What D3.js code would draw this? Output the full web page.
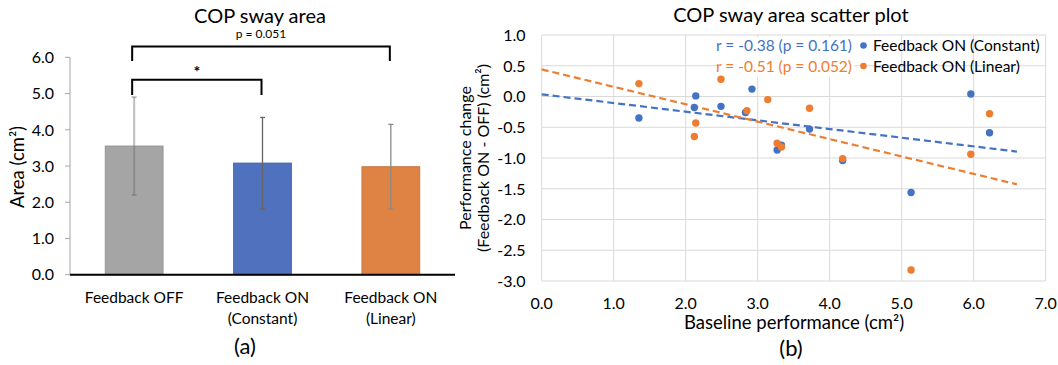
<!DOCTYPE html>
<html>
<head>
<meta charset="utf-8">
<script src="https://cdn.jsdelivr.net/npm/d3@7"></script>
<style>
  body { margin: 0; background: #fff; }
  svg { display: block; font-family: Lato, "Open Sans", sans-serif; }
</style>
</head>
<body>
<svg id="fig" width="1058" height="365"></svg>
<script>
// ---- (a) bar chart data
const groups = ["Feedback OFF", "Feedback ON (Constant)", "Feedback ON (Linear)"]
const groupLines = [["Feedback OFF"], ["Feedback ON", "(Constant)"], ["Feedback ON", "(Linear)"]]
const means = [3.55, 3.08, 2.98]
const sds = [1.35, 1.26, 1.17]
const barColors = ["#A5A5A5", "#4F71BE", "#DF8344"]
const yTicksA = [0, 1, 2, 3, 4, 5, 6]
const comparisons = [
  { from: 0, to: 1, text: "*" },
  { from: 0, to: 2, text: "p = 0.051" }
]

// ---- (b) scatter data
const baseConst   = [1.35, 2.12, 2.14, 2.49, 2.83, 2.92, 3.27, 3.33, 3.72, 4.18, 5.13, 5.96, 6.22]
const changeConst = [-0.35, -0.18, 0.01, -0.16, -0.26, 0.12, -0.87, -0.79, -0.53, -1.04, -1.56, 0.04, -0.59]
const baseLin     = [1.35, 2.12, 2.14, 2.49, 2.85, 3.14, 3.27, 3.33, 3.72, 4.18, 5.13, 5.96, 6.22]
const changeLin   = [0.21, -0.65, -0.43, 0.28, -0.23, -0.05, -0.76, -0.82, -0.19, -1.01, -2.82, -0.94, -0.28]
const trendConst = [0.035, -0.141]   // intercept, slope
const trendLin = [0.44, -0.283]
const trendSpan = [0, 6.6]
const seriesNames = ["Feedback ON (Constant)", "Feedback ON (Linear)"]
const statTexts = ["r = -0.38 (p = 0.161)", "r = -0.51 (p = 0.052)"]
const seriesColors = ["#4472C4", "#ED7D31"]
const xTicksB = [0, 1, 2, 3, 4, 5, 6, 7]
const yTicksB = [1, 0.5, 0, -0.5, -1, -1.5, -2, -2.5, -3]

const svg = d3.select("#fig")
const fmt = d => d3.format(".1f")(d).replace("−", "-")

// ================= (a)
const gA = svg.append("g")
const xA = d3.scaleBand().domain(groups).range([70, 455]).paddingInner(0.55).paddingOuter(0.275)
const yA = d3.scaleLinear().domain([0, 6]).range([274.7, 57.3])
const errColors = ["rgba(110,110,110,0.45)", "#666", "#8a8a8a"]

gA.append("text").attr("x", 260).attr("y", 23).attr("text-anchor", "middle")
  .attr("font-size", 20).attr("fill", "#000").text("COP sway area")

// y axis line + ticks
gA.append("line").attr("x1", 70).attr("x2", 70).attr("y1", yA(6)).attr("y2", yA(0))
  .attr("stroke", "#a6a6a6").attr("stroke-width", 1)
gA.selectAll(".ytA").data(yTicksA).join("line")
  .attr("x1", 65).attr("x2", 70).attr("y1", d => yA(d)).attr("y2", d => yA(d))
  .attr("stroke", "#a6a6a6")
gA.selectAll(".ylA").data(yTicksA).join("text")
  .attr("x", 54).attr("y", d => yA(d)).attr("dy", "0.36em").attr("text-anchor", "end")
  .attr("font-size", 16).attr("fill", "#000").text(fmt)

// bars
gA.selectAll(".bar").data(groups).join("rect")
  .attr("x", d => xA(d)).attr("width", xA.bandwidth())
  .attr("y", (d, i) => yA(means[i])).attr("height", (d, i) => yA(0) - yA(means[i]))
  .attr("fill", (d, i) => barColors[i])
  .attr("stroke", (d, i) => d3.color(barColors[i]).darker(0.3)).attr("stroke-width", 1)

// error bars
const eb = gA.selectAll(".eb").data(groups).join("g")
  .attr("stroke", (d, i) => errColors[i]).attr("stroke-width", (d, i) => i ? 1.3 : 2)
eb.append("line")
  .attr("x1", d => xA(d) + xA.bandwidth() / 2).attr("x2", d => xA(d) + xA.bandwidth() / 2)
  .attr("y1", (d, i) => yA(means[i] + sds[i])).attr("y2", (d, i) => yA(means[i] - sds[i]))
eb.append("line")
  .attr("x1", d => xA(d) + xA.bandwidth() / 2 - 2.5).attr("x2", d => xA(d) + xA.bandwidth() / 2 + 2.5)
  .attr("y1", (d, i) => yA(means[i] + sds[i])).attr("y2", (d, i) => yA(means[i] + sds[i]))
eb.append("line")
  .attr("x1", d => xA(d) + xA.bandwidth() / 2 - 2.5).attr("x2", d => xA(d) + xA.bandwidth() / 2 + 2.5)
  .attr("y1", (d, i) => yA(means[i] - sds[i])).attr("y2", (d, i) => yA(means[i] - sds[i]))

// baseline
gA.append("line").attr("x1", 70).attr("x2", 455).attr("y1", yA(0)).attr("y2", yA(0))
  .attr("stroke", "#000").attr("stroke-width", 2)

// category labels
groupLines.forEach((lines, i) => {
  const t = gA.append("text").attr("x", xA(groups[i]) + xA.bandwidth() / 2).attr("y", 303)
    .attr("text-anchor", "middle").attr("font-size", 15.5).attr("fill", "#000")
  lines.forEach((s, j) => t.append("tspan").attr("x", xA(groups[i]) + xA.bandwidth() / 2)
    .attr("dy", j ? 21 : 0).text(s))
})

// y title
gA.append("text").attr("transform", "translate(24,167) rotate(-90)")
  .attr("text-anchor", "middle").attr("font-size", 18.5).attr("fill", "#000").text("Area (cm²)")

// significance brackets
const bracketLevels = [[5.38, 4.96], [6.30, 5.90]]
comparisons.forEach((c, k) => {
  const x1 = xA(groups[c.from]) + xA.bandwidth() / 2 - 2
  const x2 = xA(groups[c.to]) + xA.bandwidth() / 2 - 1
  const [top, tip] = bracketLevels[k]
  gA.append("path")
    .attr("d", `M${x1},${yA(tip)}V${yA(top)}H${x2}V${yA(tip)}`)
    .attr("fill", "none").attr("stroke", "#000").attr("stroke-width", 2)
  gA.append("text").attr("x", (x1 + x2) / 2).attr("y", c.text === "*" ? yA(top) - 3 : yA(top) - 8)
    .attr("text-anchor", "middle").attr("font-size", c.text === "*" ? 16 : 12)
    .attr("font-weight", c.text === "*" ? "bold" : "normal").attr("fill", "#000").text(c.text)
})

gA.append("text").attr("x", 245).attr("y", 354).attr("text-anchor", "middle")
  .attr("font-size", 22).attr("fill", "#000").text("(a)")

// ================= (b)
const gB = svg.append("g")
const xB = d3.scaleLinear().domain([0, 7]).range([541.7, 1045.7])
const yB = d3.scaleLinear().domain([-3, 1]).range([281, 35])

gB.append("text").attr("x", 791).attr("y", 22).attr("text-anchor", "middle")
  .attr("font-size", 20).attr("fill", "#000").text("COP sway area scatter plot")

// grid
gB.selectAll(".gx").data(xTicksB).join("line")
  .attr("x1", d => xB(d)).attr("x2", d => xB(d)).attr("y1", yB(1)).attr("y2", yB(-3))
  .attr("stroke", "#d9d9d9").attr("stroke-width", 1)
gB.selectAll(".gy").data(yTicksB).join("line")
  .attr("x1", xB(0)).attr("x2", xB(7)).attr("y1", d => yB(d)).attr("y2", d => yB(d))
  .attr("stroke", "#d9d9d9").attr("stroke-width", 1)

gB.selectAll(".tx").data(xTicksB).join("text")
  .attr("x", d => xB(d)).attr("y", 309).attr("text-anchor", "middle")
  .attr("font-size", 16).attr("fill", "#000").text(fmt)
gB.selectAll(".ty").data(yTicksB).join("text")
  .attr("x", 525.5).attr("y", d => yB(d)).attr("dy", "0.36em").attr("text-anchor", "end")
  .attr("font-size", 16).attr("fill", "#000").text(fmt)

// stats box (white fill covers grid)
gB.append("rect").attr("x", 717).attr("y", 37).attr("width", 137).attr("height", 40).attr("fill", "#fff")

// trend lines
;[trendConst, trendLin].forEach((t, i) => {
  gB.append("line")
    .attr("x1", xB(trendSpan[0])).attr("y1", yB(t[0] + t[1] * trendSpan[0]))
    .attr("x2", xB(trendSpan[1])).attr("y2", yB(t[0] + t[1] * trendSpan[1]))
    .attr("stroke", seriesColors[i]).attr("stroke-width", 2.2).attr("stroke-dasharray", "7,4")
})

// points
const ptsConst = baseConst.map((x, i) => [x, changeConst[i]])
const ptsLin = baseLin.map((x, i) => [x, changeLin[i]])
gB.selectAll(".pc").data(ptsConst).join("circle")
  .attr("cx", d => xB(d[0])).attr("cy", d => yB(d[1])).attr("r", 3.7).attr("fill", seriesColors[0])
gB.selectAll(".pl").data(ptsLin).join("circle")
  .attr("cx", d => xB(d[0])).attr("cy", d => yB(d[1])).attr("r", 3.7).attr("fill", seriesColors[1])

// legend + stats
seriesNames.forEach((s, i) => {
  const y = 51 + i * 20.5
  gB.append("text").attr("x", 852).attr("y", y).attr("text-anchor", "end")
    .attr("font-size", 15.5).attr("fill", seriesColors[i]).text(statTexts[i])
  gB.append("circle").attr("cx", 863.5).attr("cy", y - 5.5).attr("r", 3.3).attr("fill", seriesColors[i])
  gB.append("text").attr("x", 873).attr("y", y).attr("font-size", 15.5).attr("fill", "#000").text(s)
})

// axis titles
gB.append("text").attr("x", 794).attr("y", 329).attr("text-anchor", "middle")
  .attr("font-size", 18.5).attr("fill", "#000").text("Baseline performance (cm²)")
const yt = gB.append("text").attr("transform", "translate(471,158) rotate(-90)")
  .attr("text-anchor", "middle").attr("font-size", 16).attr("fill", "#000")
yt.append("tspan").attr("x", 0).attr("dy", 0).text("Performance change")
yt.append("tspan").attr("x", 0).attr("dy", 17.5).text("(Feedback ON - OFF) (cm²)")

gB.append("text").attr("x", 791).attr("y", 356).attr("text-anchor", "middle")
  .attr("font-size", 22).attr("fill", "#000").text("(b)")
</script>
</body>
</html>
